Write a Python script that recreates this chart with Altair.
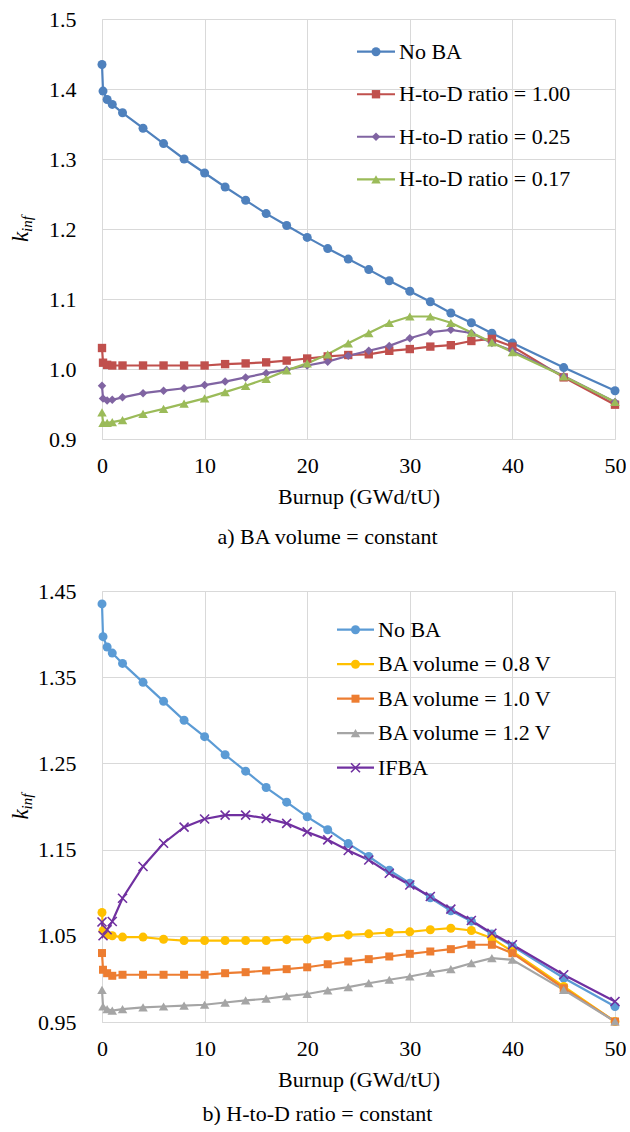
import altair as alt
import pandas as pd

FONT = "Liberation Serif"

burnup = [0, 0.1, 0.5, 1, 2, 4, 6, 8, 10, 12, 14, 16, 18, 20, 22, 24, 26, 28, 30,
          32, 34, 36, 38, 40, 45, 50]

# ---- panel a) BA volume = constant ----
no_ba = [1.435, 1.397, 1.385, 1.378, 1.366, 1.344, 1.322, 1.300, 1.280, 1.260,
         1.241, 1.222, 1.205, 1.188, 1.172, 1.157, 1.142, 1.126, 1.111, 1.096,
         1.080, 1.066, 1.051, 1.037, 1.002, 0.969]
hd_100 = [1.030, 1.009, 1.006, 1.005, 1.005, 1.005, 1.005, 1.005, 1.005, 1.007,
          1.008, 1.0095, 1.012, 1.015, 1.018, 1.020, 1.021, 1.026, 1.0285, 1.032,
          1.034, 1.040, 1.043, 1.032, 0.988, 0.949]
hd_025 = [0.976, 0.958, 0.955, 0.956, 0.9595, 0.9655, 0.969, 0.9725, 0.977, 0.982,
          0.988, 0.994, 0.999, 1.005, 1.0105, 1.019, 1.026, 1.033, 1.044, 1.0525,
          1.056, 1.0515, 1.037, 1.026, 0.990, 0.953]
hd_017 = [0.938, 0.923, 0.923, 0.924, 0.927, 0.936, 0.943, 0.9505, 0.958, 0.967,
          0.976, 0.986, 0.998, 1.008, 1.021, 1.0367, 1.0514, 1.0657, 1.075, 1.075,
          1.066, 1.052, 1.038, 1.024, 0.9895, 0.953]

top_names = ["No BA", "H-to-D ratio = 1.00", "H-to-D ratio = 0.25", "H-to-D ratio = 0.17"]
top_series = [no_ba, hd_100, hd_025, hd_017]
top_colors = ["#4F81BD", "#C0504D", "#8064A2", "#9BBB59"]
top_shapes = ["circle", "square", "diamond", "triangle-up"]
top_sizes = [81, 70, 72, 90]
top_yticks = [0.9, 1.0, 1.1, 1.2, 1.3, 1.4, 1.5]

# ---- panel b) H-to-D ratio = constant ----
no_ba_b = [1.435, 1.397, 1.385, 1.378, 1.366, 1.344, 1.322, 1.300, 1.281, 1.260,
           1.241, 1.222, 1.205, 1.188, 1.173, 1.157, 1.142, 1.126, 1.111, 1.094,
           1.079, 1.067, 1.052, 1.038, 1.001, 0.968]
vol_08 = [1.077, 1.056, 1.051, 1.050, 1.0485, 1.0485, 1.046, 1.0445, 1.0445, 1.0445,
          1.0445, 1.0445, 1.0455, 1.046, 1.049, 1.051, 1.0523, 1.0538, 1.0546, 1.057,
          1.0588, 1.0562, 1.0472, 1.0318, 0.9912, 0.9506]
vol_10 = [1.030, 1.0106, 1.0066, 1.0036, 1.0048, 1.0048, 1.0048, 1.0048, 1.0048, 1.0066,
          1.0078, 1.0097, 1.0113, 1.0135, 1.017, 1.0202, 1.0229, 1.026, 1.0291, 1.0318,
          1.0345, 1.0396, 1.0396, 1.0298, 0.9892, 0.9506]
vol_12 = [0.9873, 0.968, 0.965, 0.9633, 0.965, 0.967, 0.968, 0.969, 0.970, 0.9726,
          0.975, 0.977, 0.980, 0.9825, 0.9868, 0.9904, 0.995, 0.999, 1.0028, 1.0074,
          1.0113, 1.0182, 1.024, 1.0222, 0.9873, 0.9506]
ifba = [1.066, 1.050, 1.057, 1.0666, 1.0936, 1.1304, 1.1574, 1.176, 1.1855, 1.190,
        1.190, 1.1862, 1.1804, 1.1705, 1.1613, 1.149, 1.138, 1.1226, 1.109, 1.0956,
        1.0809, 1.0678, 1.053, 1.0396, 1.0048, 0.9738]

bot_names = ["No BA", "BA volume = 0.8 V", "BA volume = 1.0 V", "BA volume = 1.2 V", "IFBA"]
bot_series = [no_ba_b, vol_08, vol_10, vol_12, ifba]
bot_colors = ["#5B9BD5", "#FFC000", "#ED7D31", "#A5A5A5", "#7030A0"]
X_PATH = "M-1,-1L1,1M-1,1L1,-1"
bot_shapes = ["circle", "circle", "square", "triangle-up", X_PATH]
bot_sizes = [81, 81, 64, 90, 81]
bot_yticks = [0.95, 1.05, 1.15, 1.25, 1.35, 1.45]

x_ticks = [0, 10, 20, 30, 40, 50]


def panel(names, series, colors, shapes, sizes, y_domain, y_ticks, y_fmt, height,
          leg_range, leg_x0, leg_x1, leg_tx, caption, cap_dx, cap_offset):
    rows = []
    for name, vals in zip(names, series):
        for b, v in zip(burnup, vals):
            rows.append({"burnup": b, "kinf": v, "series": name})
    df = pd.DataFrame(rows)

    x_enc = alt.X("burnup:Q", scale=alt.Scale(domain=[0, 50], nice=False),
                  axis=alt.Axis(values=x_ticks, title="Burnup (GWd/tU)",
                                labelPadding=16, titlePadding=10, labelFlush=False))
    y_enc = alt.Y("kinf:Q", scale=alt.Scale(domain=y_domain, nice=False, zero=False),
                  axis=alt.Axis(values=y_ticks, format=y_fmt, title=None,
                                labelPadding=26))

    data_layers = []
    for i, (name, c) in enumerate(zip(names, colors)):
        sub = df[df["series"] == name]
        if i == 0:
            enc = dict(x=x_enc, y=y_enc)
        else:
            enc = dict(x="burnup:Q", y="kinf:Q")
        data_layers.append(alt.Chart(sub).mark_line(strokeWidth=2.2, color=c).encode(
            order="burnup:Q", **enc))
    for name, c, shp, sz in zip(names, colors, shapes, sizes):
        sub = df[df["series"] == name]
        if shp == X_PATH:
            mk = alt.Chart(sub).mark_point(shape=shp, size=sz, filled=False,
                                           color=c, strokeWidth=1.6, opacity=1)
        else:
            mk = alt.Chart(sub).mark_point(shape=shp, size=sz, filled=True,
                                           color=c, opacity=1)
        data_layers.append(mk.encode(x="burnup:Q", y="kinf:Q"))
    data_group = alt.layer(*data_layers)

    # legend drawn inside the plot, one row per series
    leg_df = pd.DataFrame({"series": names})
    leg_y = alt.Y("series:N", scale=alt.Scale(type="point", domain=names,
                                              range=leg_range, padding=0), axis=None)
    legend_layers = []
    for name, c, shp, sz in zip(names, colors, shapes, sizes):
        one = leg_df[leg_df["series"] == name]
        legend_layers.append(alt.Chart(one).mark_rule(strokeWidth=2.2, color=c).encode(
            x=alt.value(leg_x0), x2=alt.value(leg_x1), y=leg_y))
        if shp == X_PATH:
            pm = alt.Chart(one).mark_point(shape=shp, size=sz, filled=False, color=c,
                                           strokeWidth=1.6, opacity=1)
        else:
            pm = alt.Chart(one).mark_point(shape=shp, size=sz, filled=True, color=c,
                                           opacity=1)
        legend_layers.append(pm.encode(x=alt.value((leg_x0 + leg_x1) / 2), y=leg_y))
    legend_layers.append(alt.Chart(leg_df).mark_text(
        align="left", baseline="middle", font=FONT, fontSize=22, color="black").encode(
        x=alt.value(leg_tx), y=leg_y, text="series:N"))

    # y-axis title k_inf with subscript
    k_df = pd.DataFrame({"t": ["k"]})
    inf_df = pd.DataFrame({"t": ["inf"]})
    legend_layers.append(alt.Chart(k_df).mark_text(
        angle=270, align="center", baseline="alphabetic", font=FONT, fontSize=23,
        fontStyle="italic", color="black").encode(
        x=alt.value(-74), y=alt.value(height / 2 + 8), text="t:N"))
    legend_layers.append(alt.Chart(inf_df).mark_text(
        angle=270, align="center", baseline="alphabetic", font=FONT, fontSize=15,
        fontStyle="italic", color="black").encode(
        x=alt.value(-70), y=alt.value(height / 2 - 5), text="t:N"))
    legend_group = alt.layer(*legend_layers)

    return alt.layer(data_group, legend_group).resolve_scale(y="independent").properties(
        width=513, height=height,
        title=alt.TitleParams(caption, orient="bottom", anchor="middle", font=FONT,
                              fontSize=22, fontWeight="normal", color="black",
                              offset=cap_offset, dx=cap_dx))


top = panel(top_names, top_series, top_colors, top_shapes, top_sizes,
            [0.9, 1.5], top_yticks, ".1f", 420,
            [32.7, 160.3], 255, 293, 297, "a) BA volume = constant", -31, 20)
bottom = panel(bot_names, bot_series, bot_colors, bot_shapes, bot_sizes,
               [0.95, 1.45], bot_yticks, ".2f", 431,
               [38.7, 176.7], 235, 272, 276, "b) H-to-D ratio = constant", -41, 14)

chart = alt.vconcat(top, bottom, spacing=32).resolve_scale(
    x="independent", y="independent"
).properties(
    padding={"left": 10, "top": 8, "right": 0, "bottom": 0},
    background="white",
).configure_view(stroke=None).configure_axis(
    grid=True, gridColor="#D9D9D9", gridWidth=1, domainColor="#D9D9D9",
    ticks=False, labelFont=FONT, labelFontSize=22, labelColor="black",
    titleFont=FONT, titleFontSize=22, titleFontWeight="normal", titleColor="black",
)

chart.save("out.html", embed_options={"renderer": "svg", "actions": False})
